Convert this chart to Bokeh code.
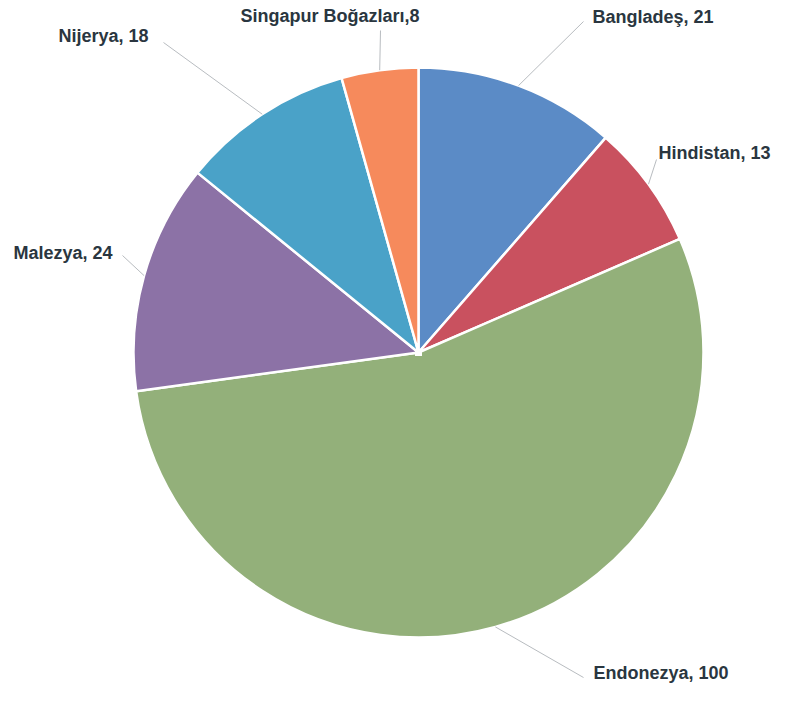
import math
from bokeh.plotting import figure
from bokeh.models import Range1d, ColumnDataSource
from bokeh.core.properties import value
from bokeh.embed import file_html
from bokeh.resources import INLINE

# ---- data ----
names = ["Bangladeş", "Hindistan", "Endonezya", "Malezya", "Nijerya", "Singapur Boğazları"]
values = [21, 13, 100, 24, 18, 8]
colors = ["#5b8bc6", "#c9515f", "#93b07a", "#8c72a6", "#4aa2c8", "#f68a5c"]
label_texts = ["Bangladeş, 21", "Hindistan, 13", "Endonezya, 100",
               "Malezya, 24", "Nijerya, 18", "Singapur Boğazları,8"]

# ---- layout (reference pixel coords; y measured from top) ----
W, H = 776, 691
OFF = 0
PAGE_H = 707
CX, CY, R = 418, 352, 285
# label text left / middle positions, leader outer end
label_pos = [(592, 16), (658, 152), (593, 672), (13, 252), (58, 35), (240, 15)]
leader_end = [(583, 21), (656, 159), (583, 677), (122, 255), (163, 42), (380, 30)]


def fy(y):
    return PAGE_H - y


p = figure(width=W, height=H, output_backend="svg", toolbar_location=None,
           x_range=Range1d(OFF, OFF + W), y_range=Range1d(PAGE_H - OFF - H, PAGE_H - OFF),
           min_border=0)
p.axis.visible = False
p.grid.visible = False
p.outline_line_color = None
p.background_fill_color = "white"

total = sum(values)
starts, ends, mids = [], [], []
a = math.pi / 2
for v in values:
    sweep = v / total * 2 * math.pi
    starts.append(a)
    ends.append(a - sweep)
    mids.append(a - sweep / 2)
    a -= sweep

src = ColumnDataSource(dict(start=ends, end=starts, color=colors))
p.wedge(x=CX, y=fy(CY), radius=R, start_angle="start", end_angle="end",
        fill_color="color", line_color="white", line_width=2.5, source=src)

# center white square
p.rect(x=CX, y=fy(CY), width=7, height=7, fill_color="white", line_color=None)

# leader lines
xs, ys = [], []
for m, (ex, ey) in zip(mids, leader_end):
    px = CX + R * math.cos(m)
    py = CY - R * math.sin(m)
    xs.append([px, ex])
    ys.append([fy(py), fy(ey)])
p.multi_line(xs=xs, ys=ys, line_color="#b8bcc0", line_width=1)

# labels
p.text(x=[q[0] for q in label_pos], y=[fy(q[1]) for q in label_pos], text=label_texts,
       text_font=value("Liberation Sans"), text_font_style="bold",
       text_font_size="18px", text_color="#2a3640",
       text_align="left", text_baseline="middle")

open("out.html", "w").write(file_html(p, INLINE))
